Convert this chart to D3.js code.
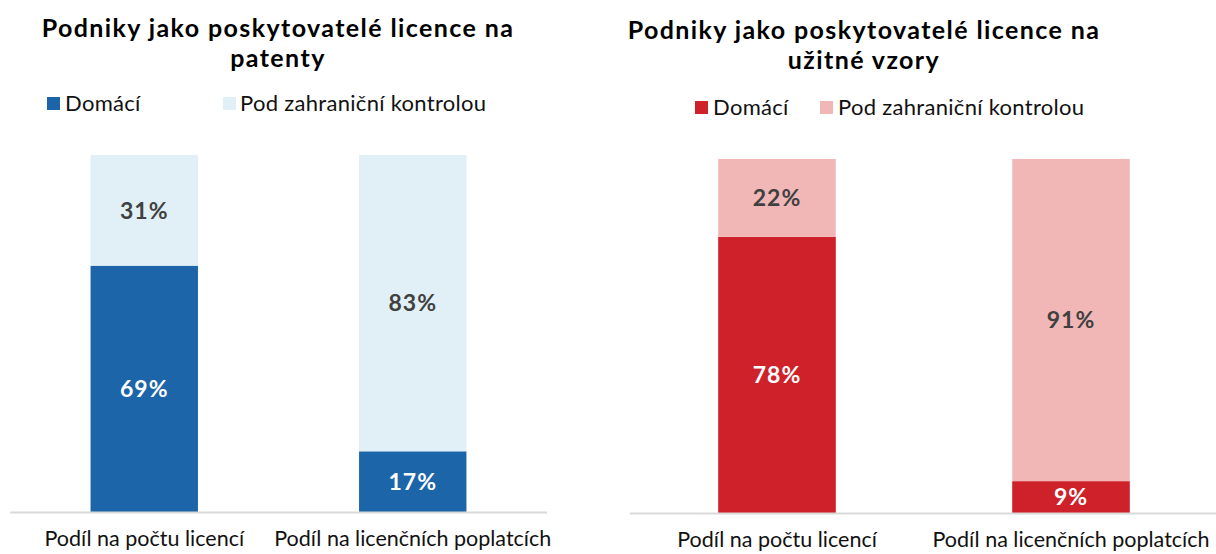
<!DOCTYPE html>
<html>
<head>
<meta charset="utf-8">
<script src="https://cdn.jsdelivr.net/npm/d3@7"></script>
<style>
  body { margin: 0; background: #fff; }
  svg text { font-family: "Lato", "Noto Sans", sans-serif; }
</style>
</head>
<body>
<svg id="chart" width="1216" height="554"></svg>
<script>
// categories and series (percent)
var categories = ["Podíl na počtu licencí", "Podíl na licenčních poplatcích"];
var seriesNames = ["Domácí", "Pod zahraniční kontrolou"];

var patentDomestic = [69, 17];
var patentForeign = [31, 83];

var utilityDomestic = [78, 9];
var utilityForeign = [22, 91];

var panels = [
    {
        title: ["Podniky jako poskytovatelé licence na", "patenty"],
        domestic: patentDomestic,
        foreign: patentForeign,
        colors: ["#1b65a8", "#e1f0f6"],
        x0: 10, x1: 547, top: 155, bottom: 512,
        titleX: 278, titleY: 37,
        legend: [{x: 47, tx: 65}, {x: 223, tx: 240}], legendY: 104,
        labelY: 546
    },
    {
        title: ["Podniky jako poskytovatelé licence na", "užitné vzory"],
        domestic: utilityDomestic,
        foreign: utilityForeign,
        colors: ["#cf2129", "#f1b7b7"],
        x0: 630, x1: 1218, top: 159, bottom: 513,
        titleX: 864, titleY: 39,
        legend: [{x: 695, tx: 713}, {x: 820, tx: 838}], legendY: 108,
        labelY: 547
    }
];

var svg = d3.select("#chart");

panels.forEach(function(p) {
    var g = svg.append("g");

    var x = d3.scaleBand()
        .domain(categories)
        .range([p.x0, p.x1])
        .paddingInner(0.6)
        .paddingOuter(0.3);

    var y = d3.scaleLinear()
        .domain([0, 100])
        .range([p.bottom, p.top]);

    // stacked data: domestic on the bottom, foreign on top
    var rows = categories.map(function(c, i) {
        return {cat: c, d: p.domestic[i], f: p.foreign[i]};
    });
    var stack = d3.stack().keys(["d", "f"])(rows);

    // title
    g.append("text")
        .attr("x", p.titleX)
        .attr("y", p.titleY)
        .attr("text-anchor", "middle")
        .attr("font-size", 25)
        .attr("letter-spacing", 1.4)
        .attr("font-weight", "bold")
        .attr("fill", "#000")
        .selectAll("tspan")
        .data(p.title)
        .enter().append("tspan")
        .attr("x", p.titleX)
        .attr("dy", function(d, i) { return i ? 30 : 0; })
        .text(function(d) { return d; });

    // legend
    var leg = g.selectAll("g.legend")
        .data(seriesNames)
        .enter().append("g")
        .attr("class", "legend");
    leg.append("rect")
        .attr("x", function(d, i) { return p.legend[i].x; })
        .attr("y", p.legendY - 7)
        .attr("width", 13)
        .attr("height", 13)
        .attr("fill", function(d, i) { return p.colors[i]; });
    leg.append("text")
        .attr("x", function(d, i) { return p.legend[i].tx; })
        .attr("y", p.legendY + 7)
        .attr("font-size", 22)
        .attr("letter-spacing", 0.3)
        .attr("fill", "#111")
        .text(function(d) { return d; });

    // bars
    var layer = g.selectAll("g.layer")
        .data(stack)
        .enter().append("g")
        .attr("class", "layer")
        .attr("fill", function(d, i) { return p.colors[i]; });

    layer.selectAll("rect")
        .data(function(d) { return d; })
        .enter().append("rect")
        .attr("x", function(d) { return x(d.data.cat); })
        .attr("width", x.bandwidth())
        .attr("y", function(d) { return y(d[1]); })
        .attr("height", function(d) { return y(d[0]) - y(d[1]); });

    // value labels
    layer.selectAll("text")
        .data(function(d) { return d; })
        .enter().append("text")
        .attr("x", function(d) { return x(d.data.cat) + x.bandwidth() / 2; })
        .attr("y", function(d) { return (y(d[0]) + y(d[1])) / 2; })
        .attr("dy", "0.36em")
        .attr("text-anchor", "middle")
        .attr("font-size", 23)
        .attr("letter-spacing", 1)
        .attr("font-weight", "bold")
        .attr("fill", function() {
            return d3.select(this.parentNode).datum().key === "d" ? "#fff" : "#404040";
        })
        .text(function(d) { return (d[1] - d[0]) + "%"; });

    // baseline
    g.append("line")
        .attr("x1", p.x0)
        .attr("x2", p.x1)
        .attr("y1", p.bottom + 0.5)
        .attr("y2", p.bottom + 0.5)
        .attr("stroke", "#d9d9d9")
        .attr("stroke-width", 2);

    // category labels
    g.selectAll("text.cat")
        .data(categories)
        .enter().append("text")
        .attr("class", "cat")
        .attr("x", function(d) { return x(d) + x.bandwidth() / 2; })
        .attr("y", p.labelY)
        .attr("text-anchor", "middle")
        .attr("font-size", 21.5)
        .attr("fill", "#111")
        .text(function(d) { return d; });
});
</script>
</body>
</html>
